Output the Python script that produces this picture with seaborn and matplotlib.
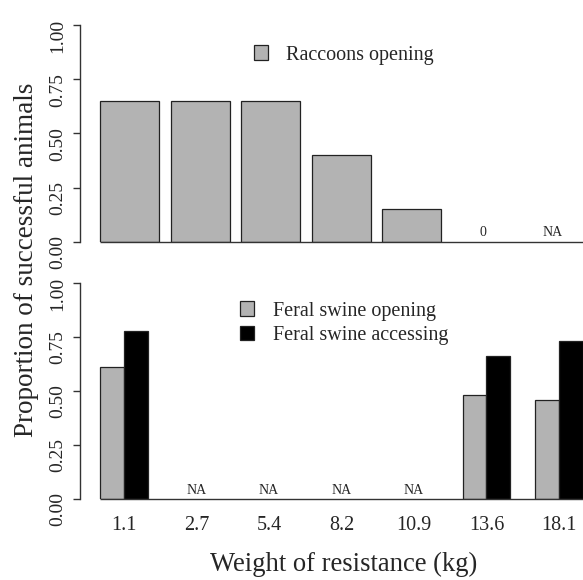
import numpy as np
import pandas as pd
import matplotlib
matplotlib.use("Agg")
import matplotlib.pyplot as plt
from matplotlib.patches import Patch
import seaborn as sns

sns.set_style("ticks")
plt.rcParams['font.family'] = ['Liberation Serif', 'DejaVu Serif']

# ------------------------------------------------------------
# data
# ------------------------------------------------------------
weights = ["1.1", "2.7", "5.4", "8.2", "10.9", "13.6", "18.1"]
raccoon_open = [0.65, 0.65, 0.65, 0.40, 0.15, 0.0, np.nan]
swine_open = [0.61, np.nan, np.nan, np.nan, np.nan, 0.48, 0.46]
swine_access = [0.78, np.nan, np.nan, np.nan, np.nan, 0.66, 0.73]
yticks = [0.00, 0.25, 0.50, 0.75, 1.00]

GRAY = "#b3b3b3"
EDGE = "#222222"

top = pd.DataFrame({"weight": weights, "value": raccoon_open})
bot = pd.concat([
    pd.DataFrame({"weight": weights, "value": swine_open, "group": "Feral swine opening"}),
    pd.DataFrame({"weight": weights, "value": swine_access, "group": "Feral swine accessing"}),
])


def note_text(v):
    if np.isnan(v):
        return "NA"
    if v == 0:
        return "0"
    return ""


def style_axis(ax, outward):
    ax.set_ylim(0, 1)
    ax.set_xlim(-0.5, 6.5)
    ax.set_yticks(yticks)
    ax.set_yticklabels([f"{t:.2f}" for t in yticks])
    ax.tick_params(axis="y", labelrotation=90)
    for lab in ax.get_yticklabels():
        lab.set_va("center")
    for s in ["top", "right", "bottom"]:
        ax.spines[s].set_visible(False)
    ax.spines["left"].set_position(("outward", outward))
    ax.spines["left"].set_bounds(0, 1)
    ax.spines["left"].set_color("#333333")
    ax.spines["left"].set_linewidth(1.0)
    ax.tick_params(axis="y", length=5, width=1.0, color="#333333", pad=5, labelsize=14)
    ax.set_xlabel("")
    ax.set_ylabel("")
    # baseline from the first bar to the right edge
    left = min(p.get_x() for p in ax.patches)
    ax.hlines(0, left, ax.get_xlim()[1], color="#333333", lw=1.0, clip_on=False)


fig = plt.figure(figsize=(5.83, 5.80), dpi=100)
ax_top = fig.add_axes([0.1625, 0.5828, 0.8465, 0.3741])
ax_bot = fig.add_axes([0.1505, 0.1397, 0.8705, 0.3724])

legend_kw = dict(loc="upper left", frameon=False, fontsize=14.5, handlelength=0.7,
                 handleheight=0.75, handletextpad=0.9, labelspacing=0.25)

# top panel: raccoons (zero and NA are written, not drawn)
sns.barplot(data=top[top["value"] > 0], x="weight", y="value", order=weights, color=GRAY,
            width=0.837, errorbar=None, edgecolor=EDGE, linewidth=0.9,
            saturation=1, ax=ax_top)
style_axis(ax_top, 10.6)
ax_top.set_xticks([])
for i, v in enumerate(raccoon_open):
    t = note_text(v)
    if t:
        ax_top.text(i, 0.015, t, ha="center", va="bottom", fontsize=10)
ax_top.legend(handles=[Patch(facecolor=GRAY, edgecolor=EDGE, lw=0.9, label="Raccoons opening")],
              bbox_to_anchor=(0.285, 0.99), **legend_kw)

# bottom panel: feral swine
sns.barplot(data=bot.dropna(), x="weight", y="value", hue="group", order=weights,
            hue_order=["Feral swine opening", "Feral swine accessing"],
            palette=[GRAY, "black"], width=0.66, errorbar=None, edgecolor=EDGE,
            linewidth=0.9, saturation=1, ax=ax_bot)
style_axis(ax_bot, 5.6)
ax_bot.tick_params(axis="x", length=0, pad=12, labelsize=14.5)
for i, (a, b) in enumerate(zip(swine_open, swine_access)):
    t = note_text(a)
    if t:
        ax_bot.text(i, 0.01, t, ha="center", va="bottom", fontsize=10)
ax_bot.legend(handles=[Patch(facecolor=GRAY, edgecolor=EDGE, lw=0.9, label="Feral swine opening"),
                       Patch(facecolor="black", edgecolor=EDGE, lw=0.9, label="Feral swine accessing")],
              bbox_to_anchor=(0.265, 1.0), **legend_kw)
ax_bot.set_xlabel("Weight of resistance (kg)", fontsize=19.2)
ax_bot.xaxis.set_label_coords(0.505, -0.245)

fig.text(0.045, 0.552, "Proportion of successful animals", rotation=90,
         ha="center", va="center", fontsize=19.5)

fig.savefig("out.png", dpi=100)
